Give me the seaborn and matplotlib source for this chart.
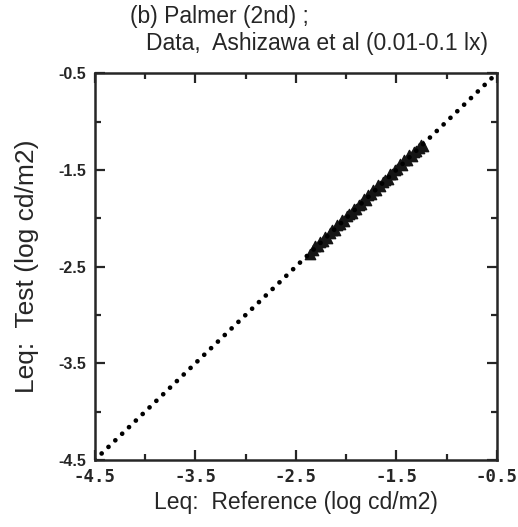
import matplotlib
matplotlib.use("Agg")
import matplotlib.pyplot as plt
import numpy as np
import pandas as pd
import seaborn as sns
from matplotlib.ticker import MultipleLocator

# Leq values (log cd/m2)
ref = [-2.36, -2.33, -2.31, -2.28, -2.26, -2.23, -2.21, -2.19, -2.16, -2.14,
       -2.11, -2.09, -2.06, -2.04, -2.02, -1.99, -1.97, -1.94, -1.92, -1.90,
       -1.87, -1.85, -1.82, -1.80, -1.78, -1.75, -1.73, -1.70, -1.68, -1.66,
       -1.63, -1.61, -1.58, -1.56, -1.54, -1.51, -1.49, -1.46, -1.44, -1.42,
       -1.39, -1.37, -1.34, -1.32, -1.30, -1.27, -1.25, -1.23]
test = [-2.37, -2.33, -2.29, -2.29, -2.24, -2.23, -2.19, -2.20, -2.15, -2.12,
        -2.12, -2.07, -2.06, -2.02, -2.03, -1.98, -1.96, -1.95, -1.90, -1.90,
        -1.86, -1.85, -1.80, -1.81, -1.76, -1.75, -1.71, -1.71, -1.66, -1.67,
        -1.62, -1.60, -1.59, -1.54, -1.54, -1.50, -1.49, -1.44, -1.45, -1.40,
        -1.40, -1.35, -1.36, -1.31, -1.30, -1.27, -1.24, -1.25]
diag = [-4.5, -0.5]
ticks = [-4.5, -3.5, -2.5, -1.5, -0.5]

sns.set_style("ticks")
plt.rcParams['font.family'] = ['Liberation Sans', 'DejaVu Sans']
plt.rcParams['axes.unicode_minus'] = False

df = pd.DataFrame({'ref': ref, 'test': test})

fig = plt.figure(figsize=(5.18, 5.27), dpi=100)
ax = fig.add_axes([0.183, 0.127, 0.776, 0.734])

# 1:1 line, round dots
ax.plot(diag, diag, linestyle=(0, (0.01, 2.0)), color='black', linewidth=3.4,
        dash_capstyle='round')
sns.scatterplot(data=df, x='ref', y='test', marker='^', s=55, color='#151515',
                edgecolor='#151515', linewidth=1.0, ax=ax, legend=False)

ax.set_xlim(-4.5, -0.5)
ax.set_ylim(-4.5, -0.5)
ax.set_xticks(ticks)
ax.set_yticks(ticks)
ax.xaxis.set_minor_locator(MultipleLocator(0.5))
ax.yaxis.set_minor_locator(MultipleLocator(0.5))
ax.tick_params(which='major', direction='in', length=7, width=1.6,
               top=True, right=True, pad=6)
ax.tick_params(which='minor', direction='in', length=4, width=1.6,
               top=True, right=True)
for lab in ax.get_xticklabels():
    lab.set_fontfamily('DejaVu Sans Mono')
    lab.set_fontweight('bold')
    lab.set_fontsize(12.5)
for lab in ax.get_yticklabels():
    lab.set_fontweight('bold')
    lab.set_fontsize(11.5)
for s in ax.spines.values():
    s.set_visible(True)
    s.set_linewidth(1.8)

ax.set_xlabel('Leq:  Reference (log cd/m2)', fontsize=16.5, labelpad=3)
ax.set_ylabel('Leq:  Test (log cd/m2)', fontsize=19, labelpad=14)

fig.text(0.251, 0.968, '(b) Palmer (2nd) ;', fontsize=16.5, va='center')
fig.text(0.281, 0.918, 'Data,  Ashizawa et al (0.01-0.1 lx)', fontsize=16.5, va='center')

fig.savefig('out.png', dpi=100)
